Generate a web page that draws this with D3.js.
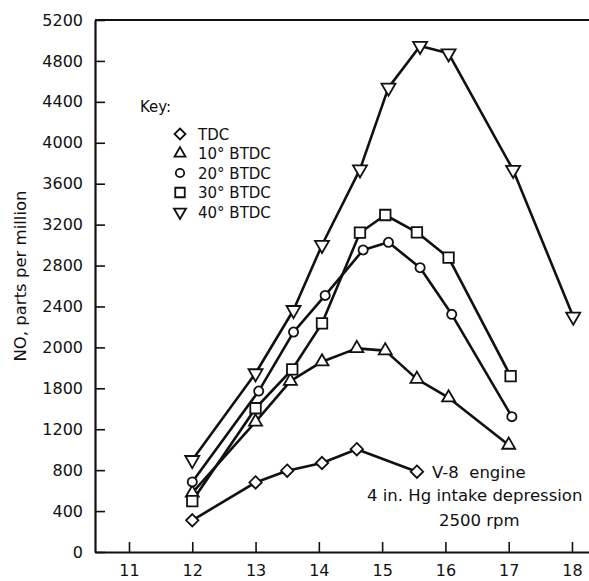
<!DOCTYPE html>
<html>
<head>
<meta charset="utf-8">
<script src="https://cdn.jsdelivr.net/npm/d3@7"></script>
<style>
  html, body { margin: 0; padding: 0; background: #ffffff; }
  svg { display: block; }
  text { font-family: "DejaVu Sans", sans-serif; fill: #111; white-space: pre; }
</style>
</head>
<body>
<svg id="chart" width="589" height="581"></svg>
<script>
// ---- data ----
const seriesNames = ["TDC", "10° BTDC", "20° BTDC", "30° BTDC", "40° BTDC"];
const tdcX  = [12, 13, 13.5, 14.05, 14.6, 15.55];
const tdcY  = [310, 680, 795, 870, 1005, 785];
const b10X  = [12, 13, 13.55, 14.05, 14.6, 15.05, 15.55, 16.05, 17];
const b10Y  = [577, 1272, 1670, 1860, 1990, 1968, 1690, 1508, 1046];
const b20X  = [12, 13.05, 13.6, 14.1, 14.7, 15.1, 15.6, 16.1, 17.05];
const b20Y  = [685, 1573, 2150, 2508, 2952, 3027, 2779, 2323, 1323];
const b30X  = [12, 13, 13.58, 14.05, 14.65, 15.05, 15.55, 16.05, 17.03];
const b30Y  = [498, 1405, 1786, 2235, 3121, 3294, 3125, 2877, 1720];
const b40X  = [12, 13, 13.6, 14.05, 14.65, 15.1, 15.6, 16.05, 17.07, 18.02];
const b40Y  = [899, 1747, 2365, 3001, 3740, 4539, 4946, 4874, 3734, 2300];
const xTickValues = [11, 12, 13, 14, 15, 16, 17, 18];
const yTickValues = [0, 400, 800, 1200, 1600, 2000, 2400, 2800, 3200, 3600, 4000, 4400, 4800, 5200];
const yTickLabels = ["0", "400", "800", "1200", "1800", "2000", "2400", "2800", "3200", "3600", "4000", "4400", "4800", "5200"];
const yTitle = "NO, parts per million";
const notes = ["V-8  engine", "4 in. Hg intake depression", "2500 rpm"];

(function () {
// ---- layout ----
const svg = d3.select("#chart");
const pL = 95, pR = 589, pT = 20, pB = 552;
const x = d3.scaleLinear().domain([10.463, 18.269]).range([pL, pR]);
const y = d3.scaleLinear().domain([0, 5200]).range([pB, pT]);

// marker shapes
function markerPath(kind, s) {
  const p = d3.path();
  if (kind === 0) { // diamond
    p.moveTo(0, -s); p.lineTo(s, 0); p.lineTo(0, s); p.lineTo(-s, 0); p.closePath();
  } else if (kind === 1) { // triangle up
    const h = s * 0.866;
    p.moveTo(0, -2 * h / 3); p.lineTo(s / 2, h / 3); p.lineTo(-s / 2, h / 3); p.closePath();
  } else if (kind === 2) { // circle
    p.moveTo(s, 0); p.arc(0, 0, s, 0, 2 * Math.PI); p.closePath();
  } else if (kind === 3) { // square
    p.rect(-s / 2, -s / 2, s, s);
  } else { // triangle down
    const h = s * 0.866;
    p.moveTo(0, 2 * h / 3); p.lineTo(s / 2, -h / 3); p.lineTo(-s / 2, -h / 3); p.closePath();
  }
  return p.toString();
}
const plotSizes = [6.2, 13, 4.6, 10.5, 14];
const keySizes = [5.5, 11, 4.2, 9.5, 12];

// frame top line
svg.append("line").attr("x1", pL).attr("x2", pR).attr("y1", pT).attr("y2", pT)
  .attr("stroke", "#111").attr("stroke-width", 2);

// axes
const yAxis = d3.axisLeft(y).tickValues(yTickValues)
  .tickFormat((d, i) => yTickLabels[i]).tickSizeInner(-10).tickSizeOuter(0).tickPadding(12);
const gy = svg.append("g").attr("transform", `translate(${pL},0)`).call(yAxis);
gy.selectAll("text").style("font-size", "16px").style("font-family", '"DejaVu Sans", sans-serif').attr("fill", "#111");

const xAxis = d3.axisBottom(x).tickValues(xTickValues).tickFormat(d3.format("d"))
  .tickSizeInner(-10).tickSizeOuter(0).tickPadding(13);
const gx = svg.append("g").attr("transform", `translate(0,${pB})`).call(xAxis);
gx.selectAll("text").style("font-size", "16px").style("font-family", '"DejaVu Sans", sans-serif').attr("fill", "#111");

[gx, gy].forEach(g => {
  g.select(".domain").attr("stroke", "#111").attr("stroke-width", 2.2);
  g.selectAll(".tick line").attr("stroke", "#111").attr("stroke-width", 1.6);
});

// y title
svg.append("text")
  .attr("transform", `translate(26,276) rotate(-90)`)
  .attr("text-anchor", "middle")
  .style("font-size", "16.5px")
  .text(yTitle);

// series
const seriesX = [tdcX, b10X, b20X, b30X, b40X];
const seriesY = [tdcY, b10Y, b20Y, b30Y, b40Y];
const line = d3.line().x(d => x(d[0])).y(d => y(d[1]));

seriesX.forEach((xs, k) => {
  const pts = xs.map((v, i) => [v, seriesY[k][i]]);
  svg.append("path").datum(pts).attr("d", line)
    .attr("fill", "none").attr("stroke", "#111").attr("stroke-width", 2.6)
    .attr("stroke-linejoin", "round");
});
seriesX.forEach((xs, k) => {
  const pts = xs.map((v, i) => [v, seriesY[k][i]]);
  svg.append("g").selectAll("path").data(pts).join("path")
    .attr("transform", d => `translate(${x(d[0])},${y(d[1])})`)
    .attr("d", markerPath(k, plotSizes[k]))
    .attr("fill", "#fff").attr("stroke", "#111").attr("stroke-width", 1.8);
});

// key
svg.append("text").attr("x", 140).attr("y", 112).style("font-size", "15px").text("Key:");
seriesNames.forEach((name, k) => {
  const cy = 134 + k * 19.5;
  svg.append("path").attr("transform", `translate(180,${cy})`)
    .attr("d", markerPath(k, keySizes[k]))
    .attr("fill", "#fff").attr("stroke", "#111").attr("stroke-width", 1.8);
  svg.append("text").attr("x", 198).attr("y", cy + 5.5).style("font-size", "15px").text(name);
});

// notes
svg.append("text").attr("x", 432).attr("y", 478).style("font-size", "16.5px").text(notes[0]);
svg.append("text").attr("x", 367).attr("y", 501).style("font-size", "16.5px").text(notes[1]);
svg.append("text").attr("x", 439).attr("y", 526).style("font-size", "16.5px").text(notes[2]);
})();
</script>
</body>
</html>
